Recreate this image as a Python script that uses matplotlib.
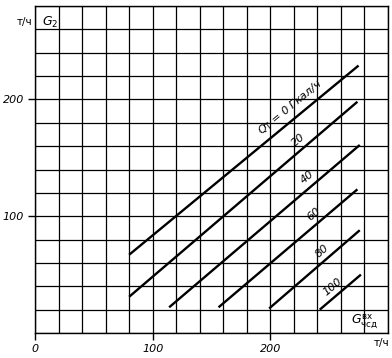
import numpy as np
import matplotlib
matplotlib.use("Agg")
import matplotlib.pyplot as plt

# значения тепловой нагрузки Q_T, Гкал/ч
q_vals = [0, 20, 40, 60, 80, 100]
# начало и конец каждой линии (G_вх_чсд, G_2), т/ч
x_start = [80, 80, 114, 156, 199, 242]
y_start = [67, 31, 22, 22, 21, 20]
x_end = [275, 274, 276, 274, 276, 277]
y_end = [229, 198, 161, 123, 88, 50]
# где вдоль линии стоит подпись (по оси x)
label_x = [223, 229, 237, 242, 249, 258]
label_txt = ["Q$_\\mathrm{T}$ = 0 Гкал/ч", "20", "40", "60", "80", "100"]

x_ticks = [0, 100, 200]
y_ticks = [100, 200]

fig = plt.figure(figsize=(3.92, 3.58), dpi=100)
ax = fig.add_axes([35/392, 25/358, 353/392, 327/358])
ax.set_xlim(0, 300)
ax.set_ylim(0, 280)

# сетка
for gx in range(0, 301, 20):
    ax.axvline(gx, color="black", lw=0.9, zorder=1)
for gy in range(0, 281, 20):
    ax.axhline(gy, color="black", lw=0.9, zorder=1)

for s in ax.spines.values():
    s.set_linewidth(1.0)

# линии
for i, q in enumerate(q_vals):
    ax.plot([x_start[i], x_end[i]], [y_start[i], y_end[i]], color="black", lw=1.7,
            solid_capstyle="butt", zorder=3)
    k = (y_end[i] - y_start[i]) / (x_end[i] - x_start[i])
    ly = y_start[i] + k * (label_x[i] - x_start[i])
    ang = np.degrees(np.arctan(k * (327 / 280) / (353 / 300)))
    ax.annotate(label_txt[i], (label_x[i], ly), xytext=(-2.2, 2.2),
                textcoords="offset points", rotation=ang, rotation_mode="anchor",
                ha="center", va="bottom", fontsize=8, style="italic", zorder=4)

ax.set_xticks(x_ticks)
ax.set_yticks(y_ticks)
ax.set_xticklabels([str(v) for v in x_ticks], style="italic", fontsize=8)
ax.set_yticklabels([str(v) for v in y_ticks], style="italic", fontsize=8)
ax.tick_params(direction="out", length=5, width=1.0, pad=3)

# подписи осей
fig.text(25/392, 1 - 22/358, "т/ч", fontsize=7.5, ha="center", va="center")
fig.text(50/392, 1 - 22/358, "$G_2$", fontsize=9, ha="center", va="center")
fig.text(382/392, 1 - 343/358, "т/ч", fontsize=7.5, ha="center", va="center")
fig.text(365/392, 1 - 322/358, "$G^{\\mathrm{вх}}_{\\mathrm{чсд}}$", fontsize=9,
         ha="center", va="center")

fig.savefig("out.png", dpi=100, facecolor="white")
